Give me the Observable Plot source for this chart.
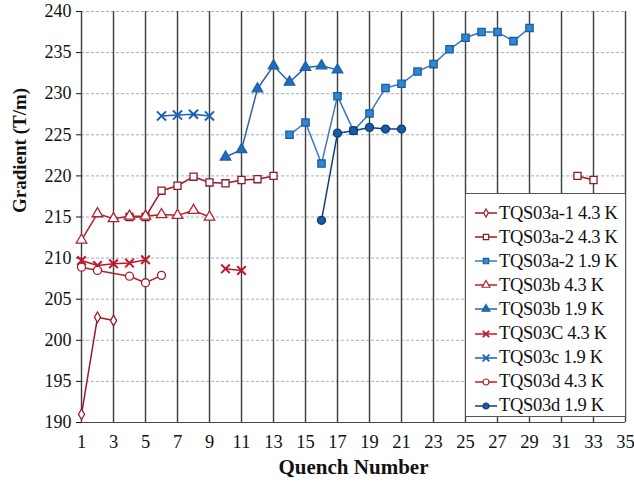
<!DOCTYPE html>
<html>
<head>
<meta charset="utf-8">
<script src="https://cdn.jsdelivr.net/npm/d3@7"></script>
<script src="https://cdn.jsdelivr.net/npm/@observablehq/plot@0.6"></script>
<style>
  html, body { margin: 0; padding: 0; background: #fff; }
  #wrap { position: relative; width: 634px; height: 484px; font-family: "Liberation Serif", "Times New Roman", serif; }
  #wrap svg text { font-family: "Liberation Serif", "Times New Roman", serif !important; }
  #legend { position: absolute; left: 465px; top: 193px; width: 161px; height: 224px; background: #fff; border: 1px solid #555; box-sizing: border-box; padding-top: 7px; }
  .row { height: 24.1px; display: flex; align-items: center; font-size: 18.5px; color: #111; white-space: nowrap; font-family: "Liberation Serif", "Times New Roman", serif; letter-spacing: -0.3px; }
  .row svg { margin-left: 8px; margin-right: 1px; flex: none; }
</style>
</head>
<body>
<div id="wrap"><div id="legend"></div></div>
<script>
// Quench numbers and gradients (T/m); null = break in the line
const a1_43_q = [1, 2, 3];
const a1_43_g = [191.0, 202.8, 202.4];
const a2_43_q = [4, 5, 6, 7, 8, 9, 10, 11, 12, 13, 20, 32, 33];
const a2_43_g = [215.0, 215.0, 218.2, 218.8, 219.9, 219.2, 219.1, 219.5, 219.6, 220.0, null, 220.0, 219.5];
const a2_19_q = [14, 15, 16, 17, 18, 19, 20, 21, 22, 23, 24, 25, 26, 27, 28, 29];
const a2_19_g = [225.0, 226.5, 221.5, 229.7, 225.5, 227.6, 230.7, 231.2, 232.7, 233.6, 235.4, 236.8, 237.5, 237.5, 236.4, 238.0];
const b_43_q = [1, 2, 3, 4, 5, 6, 7, 8, 9];
const b_43_g = [212.2, 215.4, 214.8, 215.1, 215.1, 215.3, 215.2, 215.8, 215.0];
const b_19_q = [10, 11, 12, 13, 14, 15, 16, 17];
const b_19_g = [222.3, 223.2, 230.6, 233.4, 231.4, 233.2, 233.4, 232.9];
const C_43_q = [1, 2, 3, 4, 5, 7, 10, 11];
const C_43_g = [209.7, 209.1, 209.3, 209.4, 209.8, null, 208.7, 208.5];
const c_19_q = [6, 7, 8, 9];
const c_19_g = [227.3, 227.4, 227.5, 227.3];
const d_43_q = [1, 2, 4, 5, 6];
const d_43_g = [208.9, 208.5, 207.8, 207.0, 207.9];
const d_19_q = [16, 17, 18, 19, 20, 21];
const d_19_g = [214.6, 225.2, 225.5, 225.9, 225.7, 225.7];

const xTicks = d3.range(1, 36, 2);
const yTicks = d3.range(190, 241, 5);

const series = [
  {name: "TQS03a-1 4.3 K", q: a1_43_q, g: a1_43_g, line: "#9b1b2b", sym: "diamond", fill: "#fff", stroke: "#9b1b2b", r: 3.2},
  {name: "TQS03a-2 4.3 K", q: a2_43_q, g: a2_43_g, line: "#9b1b2b", sym: "square", fill: "#fff", stroke: "#8e1a28", r: 4.0},
  {name: "TQS03a-2 1.9 K", q: a2_19_q, g: a2_19_g, line: "#3b78b8", sym: "square", fill: "#2e88d8", stroke: "#1c5c9c", r: 4.1},
  {name: "TQS03b 4.3 K", q: b_43_q, g: b_43_g, line: "#b3202e", sym: "triangle", fill: "#fff", stroke: "#b3202e", r: 3.9},
  {name: "TQS03b 1.9 K", q: b_19_q, g: b_19_g, line: "#2b64a3", sym: "triangle", fill: "#1f6dbf", stroke: "#1f5fa8", r: 3.9},
  {name: "TQS03C 4.3 K", q: C_43_q, g: C_43_g, line: "#b51a2a", sym: "times", fill: "none", stroke: "#c8142c", r: 4.0},
  {name: "TQS03c 1.9 K", q: c_19_q, g: c_19_g, line: "#1f5fae", sym: "times", fill: "none", stroke: "#1a62b8", r: 4.2},
  {name: "TQS03d 4.3 K", q: d_43_q, g: d_43_g, line: "#b3202e", sym: "circle", fill: "#fff", stroke: "#a81e2c", r: 4.0},
  {name: "TQS03d 1.9 K", q: d_19_q, g: d_19_g, line: "#0e3f7e", sym: "circle", fill: "#1b5aa8", stroke: "#0c3a78", r: 4.0}
];

const serif = "Liberation Serif, Times New Roman, serif";
const marks = [
  Plot.ruleY(yTicks, {stroke: "#9fb0c8", strokeWidth: 1, strokeDasharray: "3,2"}),
  Plot.ruleX(xTicks, {stroke: "#3c3c3c", strokeWidth: 1.4}),
  Plot.ruleY([190], {stroke: "#4a4a4a", strokeWidth: 1.2}),
  Plot.axisY(yTicks, {tickSize: 5, tickPadding: 5, fontSize: 18, label: null, fontFamily: serif}),
  Plot.axisX(xTicks, {tickSize: 0, tickPadding: 12, fontSize: 18.5, label: null, fontFamily: serif}),
  Plot.text(["Quench Number"], {frameAnchor: "bottom", lineAnchor: "middle", dy: 45, fontSize: 21, fontWeight: "bold", fontFamily: serif, fill: "#111"}),
  Plot.text(["Gradient (T/m)"], {frameAnchor: "left", lineAnchor: "middle", dx: -62, dy: -4, rotate: -90, fontSize: 19, fontWeight: "bold", fontFamily: serif, fill: "#111"})
];

for (const s of series) {
  const data = s.q.map((q, i) => ({q, g: s.g[i]}));
  marks.push(Plot.line(data, {x: "q", y: "g", stroke: s.line, strokeWidth: 1.5}));
}
for (const s of series) {
  const data = s.q.map((q, i) => ({q, g: s.g[i]})).filter(d => d.g != null);
  const isStroke = s.sym === "times";
  marks.push(Plot.dot(data, {x: "q", y: "g", symbol: s.sym, r: s.r, fill: s.fill, stroke: s.stroke, strokeWidth: isStroke ? 2 : 1.3}));
}

const chart = Plot.plot({
  width: 634,
  height: 484,
  marginLeft: 81,
  marginRight: 9,
  marginTop: 11,
  marginBottom: 62,
  style: {fontFamily: serif, color: "#111", background: "#fff"},
  x: {domain: [1, 35], axis: null},
  y: {domain: [190, 240], axis: null},
  marks
});
document.getElementById("wrap").prepend(chart);

// legend
const symMap = {circle: d3.symbolCircle, square: d3.symbolSquare, triangle: d3.symbolTriangle, diamond: d3.symbolDiamond, times: d3.symbolTimes};
const legend = d3.select("#legend");
for (const s of series) {
  const row = legend.append("div").attr("class", "row");
  const svg = row.append("svg").attr("width", 24).attr("height", 14);
  svg.append("line").attr("x1", 1).attr("x2", 23).attr("y1", 7).attr("y2", 7).attr("stroke", s.line).attr("stroke-width", 1.5);
  const rr = s.r * 0.75;
  svg.append("path").attr("transform", "translate(12,7)")
    .attr("d", d3.symbol(symMap[s.sym], Math.PI * rr * rr)())
    .attr("fill", s.fill).attr("stroke", s.stroke).attr("stroke-width", s.sym === "times" ? 1.8 : 1.2);
  row.append("span").text(s.name);
}
</script>
</body>
</html>
